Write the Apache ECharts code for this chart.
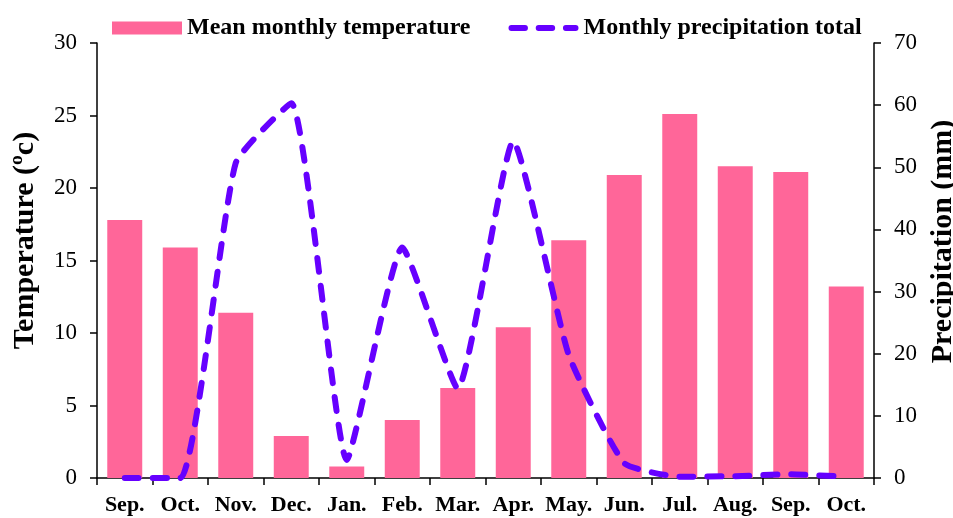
<!DOCTYPE html>
<html>
<head>
<meta charset="utf-8">
<script src="https://cdn.jsdelivr.net/npm/echarts@6/dist/echarts.min.js"></script>
<style>
html,body{margin:0;padding:0;background:#fff;}
#c{width:953px;height:518px;}
</style>
</head>
<body>
<div id="c"></div>
<script>
const categories = ['Sep.', 'Oct.', 'Nov.', 'Dec.', 'Jan.', 'Feb.', 'Mar.', 'Apr.', 'May.', 'Jun.', 'Jul.', 'Aug.', 'Sep.', 'Oct.'];
const temperature = [17.8, 15.9, 11.4, 2.9, 0.8, 4.0, 6.2, 10.4, 16.4, 20.9, 25.1, 21.5, 21.1, 13.2];
const precipitation = [0, 0, 50.7, 60.3, 2.9, 37.1, 14.4, 54.2, 19.8, 2.4, 0.2, 0.3, 0.6, 0.2];
const tempTicks = [0, 5, 10, 15, 20, 25, 30];
const precTicks = [0, 10, 20, 30, 40, 50, 60, 70];

const FONT = '"Liberation Serif", "Times New Roman", serif';
const dashIcon = 'path://M3,0 H17 A3,3 0 0 1 17,6 H3 A3,3 0 0 1 3,0 Z M31,0 H45 A3,3 0 0 1 45,6 H31 A3,3 0 0 1 31,0 Z M59,0 H69 A3,3 0 0 1 69,6 H59 A3,3 0 0 1 59,0 Z';
const chart = echarts.init(document.getElementById('c'));
chart.setOption({
  animation: false,
  backgroundColor: '#ffffff',
  textStyle: { fontFamily: FONT },
  legend: {
    top: 11,
    left: 107,
    itemGap: 38,
    itemWidth: 70,
    itemHeight: 13,
    textStyle: { fontFamily: FONT, fontWeight: 'bold', fontSize: 24, color: '#000' },
    data: [
      { name: 'Mean monthly temperature', icon: 'rect' },
      { name: 'Monthly precipitation total', icon: dashIcon, itemStyle: { color: '#6600FF', borderWidth: 0 } }
    ]
  },
  grid: { left: 97, right: 79, top: 43, bottom: 40, containLabel: false, outerBoundsMode: 'none' },
  xAxis: {
    type: 'category',
    data: categories,
    boundaryGap: true,
    axisLine: { lineStyle: { color: '#000', width: 1.5 } },
    axisTick: { show: true, length: 7, lineStyle: { color: '#000', width: 1.5 } },
    axisLabel: { interval: 0, fontFamily: FONT, fontWeight: 'bold', fontSize: 22, color: '#000', margin: 16 }
  },
  yAxis: [
    {
      type: 'value', min: tempTicks[0], max: tempTicks[tempTicks.length - 1], interval: 5,
      name: 'Temperature (ºc)', nameLocation: 'middle', nameGap: 57, nameRotate: 90,
      nameTextStyle: { fontFamily: FONT, fontWeight: 'bold', fontSize: 30, color: '#000', padding: [0, 0, 0, 40] },
      axisLine: { show: true, lineStyle: { color: '#000', width: 1.5 } },
      axisTick: { show: true, length: 7, lineStyle: { color: '#000', width: 1.5 } },
      axisLabel: { fontFamily: FONT, fontSize: 23, color: '#000', margin: 20 },
      splitLine: { show: false }
    },
    {
      type: 'value', min: precTicks[0], max: precTicks[precTicks.length - 1], interval: 10,
      name: 'Precipitation (mm)', nameLocation: 'middle', nameGap: 54, nameRotate: 90,
      nameTextStyle: { fontFamily: FONT, fontWeight: 'bold', fontSize: 30, color: '#000', padding: [0, 0, 0, 38] },
      axisLine: { show: true, lineStyle: { color: '#000', width: 1.5 } },
      axisTick: { show: true, length: 7, lineStyle: { color: '#000', width: 1.5 } },
      axisLabel: { fontFamily: FONT, fontSize: 23, color: '#000', margin: 20 },
      splitLine: { show: false }
    }
  ],
  series: [
    {
      name: 'Mean monthly temperature',
      type: 'bar',
      yAxisIndex: 0,
      data: temperature,
      barWidth: '63%',
      itemStyle: { color: '#FF6699' }
    },
    {
      name: 'Monthly precipitation total',
      type: 'line',
      yAxisIndex: 1,
      data: precipitation,
      symbol: 'none',
      smooth: 0.15,
      itemStyle: { color: '#6600FF' },
      lineStyle: { color: '#6600FF', width: 6, type: [14, 14], cap: 'round', join: 'round' },
      z: 5
    }
  ]
});
</script>
</body>
</html>
